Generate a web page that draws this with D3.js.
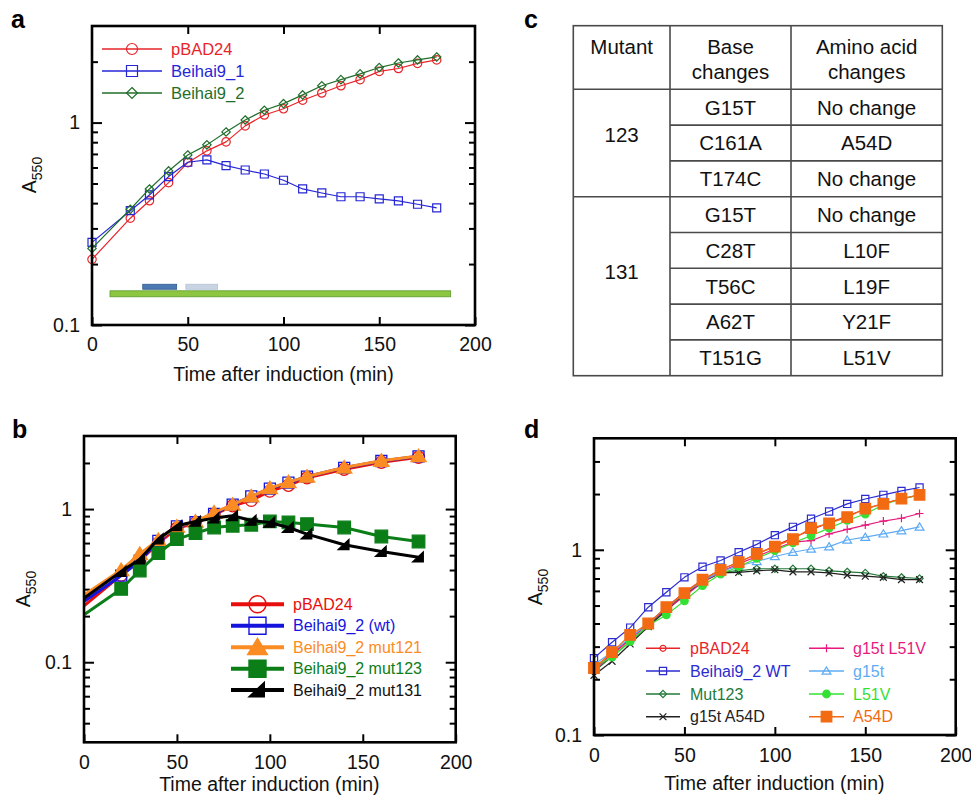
<!DOCTYPE html>
<html>
<head>
<meta charset="utf-8">
<script src="https://cdn.jsdelivr.net/npm/d3@7"></script>
<style>
  html, body { margin: 0; padding: 0; background: #fff; }
  svg { display: block; font-family: "Liberation Sans", Arial, Helvetica, sans-serif; }
</style>
</head>
<body>
<svg id="fig" width="971" height="796"></svg>
<script>
// ---------- Panel a: growth after induction ----------
const timeA = [0, 20, 30, 40, 50, 60, 70, 80, 90, 100, 110, 120, 130, 140, 150, 160, 170, 180];
const pBAD24_A   = [0.211, 0.337, 0.411, 0.505, 0.634, 0.725, 0.803, 0.963, 1.09, 1.17, 1.29, 1.40, 1.52, 1.63, 1.79, 1.85, 1.96, 2.04];
const beihai9_1A = [0.256, 0.367, 0.439, 0.541, 0.637, 0.654, 0.613, 0.583, 0.557, 0.519, 0.470, 0.449, 0.430, 0.430, 0.420, 0.410, 0.395, 0.379];
const beihai9_2A = [0.239, 0.373, 0.470, 0.577, 0.692, 0.776, 0.899, 1.03, 1.15, 1.24, 1.37, 1.52, 1.63, 1.74, 1.87, 1.97, 2.04, 2.11];
// time windows shown as bars under the curves: [start, end, A550 level]
const windowsA = [
  { start: 26.5, end: 44.2, level: 0.1545, kind: "dark" },
  { start: 49.0, end: 65.6, level: 0.1545, kind: "light" },
  { start: 9.4,  end: 187.3, level: 0.1426, kind: "green" }
];

// ---------- Panel b: mutants ----------
const timeB = [0, 20, 30, 40, 50, 60, 70, 80, 90, 100, 110, 120, 140, 160, 180];
const pBAD24_B = [0.233, 0.37, 0.46, 0.60, 0.75, 0.81, 0.92, 1.05, 1.14, 1.31, 1.43, 1.60, 1.82, 2.02, 2.18];
const wt_B     = [0.249, 0.368, 0.46, 0.62, 0.77, 0.82, 0.93, 1.07, 1.21, 1.36, 1.49, 1.63, 1.86, 2.06, 2.21];
const mut121_B = [0.275, 0.40, 0.51, 0.63, 0.77, 0.83, 0.95, 1.07, 1.21, 1.37, 1.50, 1.63, 1.87, 2.07, 2.22];
const mut123_B = [0.204, 0.301, 0.397, 0.515, 0.637, 0.697, 0.758, 0.778, 0.79, 0.83, 0.818, 0.798, 0.758, 0.662, 0.614];
const mut131_B = [0.262, 0.391, 0.471, 0.637, 0.778, 0.83, 0.873, 0.904, 0.843, 0.818, 0.758, 0.686, 0.585, 0.528, 0.485];

// ---------- Panel c: mutation table ----------
const tableHeader = [["Mutant"], ["Base", "changes"], ["Amino acid", "changes"]];
const mutantIds   = ["123", "131"];
const mutantRows  = [3, 5];
const baseChanges = ["G15T", "C161A", "T174C", "G15T", "C28T", "T56C", "A62T", "T151G"];
const aaChanges   = ["No change", "A54D", "No change", "No change", "L10F", "L19F", "Y21F", "L51V"];

// ---------- Panel d: single / double mutants ----------
const timeD = [0, 10, 20, 30, 40, 50, 60, 70, 80, 90, 100, 110, 120, 130, 140, 150, 160, 170, 180];
const pBAD24_D  = [0.22, 0.27, 0.33, 0.40, 0.49, 0.59, 0.69, 0.78, 0.86, 0.95, 1.05, 1.16, 1.28, 1.40, 1.52, 1.66, 1.78, 1.88, 1.98];
const wt_D      = [0.26, 0.317, 0.38, 0.49, 0.59, 0.71, 0.81, 0.875, 0.97, 1.07, 1.20, 1.33, 1.47, 1.61, 1.77, 1.88, 1.98, 2.08, 2.17];
const mut123_D  = [0.22, 0.265, 0.32, 0.39, 0.48, 0.58, 0.68, 0.76, 0.77, 0.79, 0.79, 0.79, 0.79, 0.77, 0.76, 0.75, 0.72, 0.71, 0.70];
const g15tA54D_D = [0.21, 0.25, 0.31, 0.385, 0.47, 0.57, 0.67, 0.75, 0.755, 0.77, 0.78, 0.76, 0.76, 0.75, 0.73, 0.72, 0.71, 0.69, 0.69];
const g15tL51V_D = [0.225, 0.275, 0.33, 0.40, 0.48, 0.56, 0.67, 0.76, 0.84, 0.92, 1.01, 1.10, 1.12, 1.22, 1.29, 1.36, 1.43, 1.48, 1.57];
const g15t_D    = [0.24, 0.28, 0.335, 0.40, 0.49, 0.58, 0.68, 0.76, 0.82, 0.865, 0.92, 0.97, 1.01, 1.04, 1.13, 1.17, 1.22, 1.27, 1.33];
const l51v_D    = [0.235, 0.263, 0.32, 0.39, 0.445, 0.53, 0.64, 0.74, 0.81, 0.90, 0.99, 1.09, 1.19, 1.31, 1.44, 1.56, 1.75, 1.88, 1.97];
const a54d_D    = [0.23, 0.28, 0.347, 0.40, 0.49, 0.583, 0.689, 0.78, 0.857, 0.95, 1.04, 1.14, 1.31, 1.39, 1.50, 1.67, 1.77, 1.89, 1.98];

const xTickValues = [0, 50, 100, 150, 200];

// ---------- drawing helpers ----------
const svg = d3.select("#fig");
svg.append("rect").attr("width", 971).attr("height", 796).attr("fill", "#fff");

function markerPath(kind, r) {
  switch (kind) {
    case "circle":   return `M${-r},0A${r},${r} 0 1,0 ${r},0A${r},${r} 0 1,0 ${-r},0Z`;
    case "square":   return `M${-r},${-r}H${r}V${r}H${-r}Z`;
    case "diamond":  return `M0,${-r}L${r},0L0,${r}L${-r},0Z`;
    case "triangle": return `M0,${-r}L${r * 1.1},${r * 0.8}L${-r * 1.1},${r * 0.8}Z`;
    case "wedge":    return `M${-r},${r * 0.8}L${r * 0.8},${-r * 0.9}L${r * 0.8},${r * 0.8}Z`;
    case "plus":     return `M${-r},0H${r}M0,${-r}V${r}`;
    case "cross":    return `M${-r},${-r}L${r},${r}M${-r},${r}L${r},${-r}`;
  }
}

function logTicks(lo, hi) {
  const out = [];
  for (let e = Math.floor(Math.log10(lo)); e <= Math.ceil(Math.log10(hi)); e++) {
    for (let m = 1; m <= 9; m++) {
      const v = +(m * Math.pow(10, e)).toPrecision(6);
      if (v > lo * 1.0001 && v < hi * 0.9999) out.push(v);
      else if (m === 1 && Math.abs(v - lo) < 1e-9) out.push(v);
    }
  }
  return out;
}
const isDecade = v => Math.abs(Math.log10(v) - Math.round(Math.log10(v))) < 1e-6;

function drawMarker(sel, s, r) {
  sel.append("path")
    .attr("d", markerPath(s.marker, r))
    .attr("fill", s.fill === "solid" ? s.color : (s.fill === "white" ? "#fff" : "none"))
    .attr("stroke", s.color)
    .attr("stroke-width", s.markerStroke || 1.2)
    .attr("stroke-linejoin", "miter");
}

function drawPanel(p) {
  const g = svg.append("g").attr("transform", `translate(${p.left},${p.top})`);
  const x = d3.scaleLinear().domain([0, 200]).range([0, p.width]);
  const y = d3.scaleLog().domain(p.yDomain).range([p.height, 0]);
  const yVals = logTicks(p.yDomain[0], p.yDomain[1]);
  const fmt = v => (v >= 1 ? d3.format("d")(v) : String(v));

  // axes (ticks point inward)
  g.append("g").attr("transform", `translate(0,${p.height})`)
    .call(d3.axisBottom(x).tickValues(xTickValues).tickSize(-8).tickPadding(p.xPad).tickFormat(d3.format("d")));
  g.append("g")
    .call(d3.axisTop(x).tickValues([50, 100, 150]).tickSize(-8).tickFormat(""));
  const axY = g.append("g")
    .call(d3.axisLeft(y).tickValues(yVals).tickSize(-6).tickPadding(12)
      .tickFormat(v => isDecade(v) ? fmt(v) : ""));
  const axY2 = g.append("g").attr("transform", `translate(${p.width},0)`)
    .call(d3.axisRight(y).tickValues(yVals).tickSize(-6).tickFormat(""));
  g.selectAll(".domain").remove();
  axY.selectAll(".tick line").filter(v => isDecade(v)).attr("x2", 10);
  axY2.selectAll(".tick line").filter(v => isDecade(v)).attr("x2", -10);
  g.selectAll(".tick line").attr("stroke", "#000").attr("stroke-width", 2);
  g.selectAll(".tick text")
    .attr("fill", "#111")
    .style("font-family", "'Liberation Sans', Arial, sans-serif")
    .style("font-size", "19.5px");

  // extra bars (panel a)
  if (p.windows) {
    const styles = {
      dark:  { fill: "#4b79b1", stroke: "#30598c", h: 5 },
      light: { fill: "#c8d4e4", stroke: "#b6c3d4", h: 5 },
      green: { fill: "#8dc641", stroke: "#5d9b2c", h: 6 }
    };
    g.selectAll("rect.win").data(p.windows).join("rect")
      .attr("class", "win")
      .attr("x", d => x(d.start))
      .attr("width", d => x(d.end) - x(d.start))
      .attr("y", d => y(d.level) - styles[d.kind].h / 2)
      .attr("height", d => styles[d.kind].h)
      .attr("fill", d => styles[d.kind].fill)
      .attr("stroke", d => styles[d.kind].stroke)
      .attr("stroke-width", 0.8);
  }

  // series
  const line = d3.line().x(d => x(d[0])).y(d => y(d[1]));
  p.series.forEach(s => {
    const pts = s.time.map((t, i) => [t, s.values[i]]);
    g.append("path").datum(pts)
      .attr("d", line)
      .attr("fill", "none")
      .attr("stroke", s.color)
      .attr("stroke-width", p.lineWidth)
      .attr("stroke-linejoin", "round");
    const mpts = p.noMarkerAtZero ? pts.filter(d => d[0] > 0) : pts;
    mpts.forEach(d => {
      const m = g.append("g").attr("transform", `translate(${x(d[0])},${y(d[1])})`);
      drawMarker(m, s, s.r);
    });
  });

  // frame
  g.append("rect").attr("width", p.width).attr("height", p.height)
    .attr("fill", "none").attr("stroke", "#000").attr("stroke-width", 2.6);

  // axis titles
  svg.append("text")
    .attr("x", p.left + p.width / 2 + p.xTitleDx).attr("y", p.xTitleY)
    .attr("text-anchor", "middle").attr("font-size", 19.5).attr("fill", "#111")
    .text("Time after induction (min)");
  const yt = svg.append("text")
    .attr("transform", `translate(${p.yTitleX},${p.yTitleY}) rotate(-90)`)
    .attr("text-anchor", "middle").attr("font-size", 19.5).attr("fill", "#111");
  yt.append("tspan").text("A");
  yt.append("tspan").attr("font-size", 14).attr("dy", 6).text("550");

  // panel letter
  svg.append("text").attr("x", p.letterX).attr("y", p.letterY)
    .attr("font-size", 25).attr("font-weight", "bold").attr("fill", "#000").text(p.letter);

  // legend
  p.legend.forEach(L => {
    L.items.forEach((s, i) => {
      const yy = L.rows[i];
      svg.append("line").attr("x1", L.x0).attr("x2", L.x1).attr("y1", yy).attr("y2", yy)
        .attr("stroke", s.color).attr("stroke-width", L.lw);
      const m = svg.append("g").attr("transform", `translate(${(L.x0 + L.x1) / 2},${yy})`);
      drawMarker(m, Object.assign({}, s, { markerStroke: L.ms || s.markerStroke }), L.r(s));
      svg.append("text").attr("x", L.tx).attr("y", yy).attr("dy", "0.36em")
        .attr("font-size", L.fs).attr("fill", s.textColor || s.color).text(s.name);
    });
  });
}

// ---------- panel a ----------
const seriesA = [
  { name: "pBAD24",    time: timeA, values: pBAD24_A,   color: "#e8242a", marker: "circle",  fill: "none", r: 4.2 },
  { name: "Beihai9_1", time: timeA, values: beihai9_1A, color: "#2626d6", marker: "square",  fill: "none", r: 4 },
  { name: "Beihai9_2", time: timeA, values: beihai9_2A, color: "#1f6e2b", marker: "diamond", fill: "none", r: 4.2 }
];
drawPanel({
  letter: "a", letterX: 11, letterY: 28,
  left: 92, top: 26, width: 383, height: 299, yDomain: [0.1, 3],
  xPad: 12, lineWidth: 1.2, series: seriesA, windows: windowsA,
  xTitleY: 381, xTitleDx: 0, yTitleX: 36, yTitleY: 175,
  legend: [{ items: seriesA, x0: 102, x1: 162, tx: 171, rows: [49, 71, 93], lw: 1.5, fs: 16.5, r: s => 5.5 }]
});

// ---------- panel b ----------
const seriesB = [
  { name: "pBAD24",           time: timeB, values: pBAD24_B, color: "#e80e0e", marker: "circle",   fill: "none",  r: 6, markerStroke: 1.3 },
  { name: "Beihai9_2 (wt)",   time: timeB, values: wt_B,     color: "#1414dc", marker: "square",   fill: "none",  r: 5.5, markerStroke: 1.3 },
  { name: "Beihai9_2 mut121", time: timeB, values: mut121_B, color: "#fb8c24", marker: "triangle", fill: "solid", r: 7 },
  { name: "Beihai9_2 mut123", time: timeB, values: mut123_B, color: "#0b7e17", marker: "square",   fill: "solid", r: 6.3 },
  { name: "Beihai9_2 mut131", time: timeB, values: mut131_B, color: "#000000", marker: "wedge",    fill: "solid", r: 6, textColor: "#111" }
];
drawPanel({
  letter: "b", letterX: 12, letterY: 438,
  left: 84, top: 436, width: 371.7, height: 306.3, yDomain: [0.03, 3],
  xPad: 12.5, lineWidth: 3, series: seriesB, noMarkerAtZero: true,
  xTitleY: 791, xTitleDx: -0.5, yTitleX: 30, yTitleY: 589,
  legend: [{ items: seriesB, x0: 231, x1: 284, tx: 293, rows: [604.3, 625.7, 647.3, 668.7, 690], lw: 4, fs: 16,
             r: s => (s.marker === "triangle" ? 9 : s.marker === "wedge" ? 8.5 : 8.5), ms: 1.4 }]
});

// ---------- panel d ----------
const seriesD = [
  { name: "pBAD24",       time: timeD, values: pBAD24_D,   color: "#e8262a", marker: "circle",   fill: "none",  r: 3 },
  { name: "Beihai9_2 WT", time: timeD, values: wt_D,       color: "#2b2bd0", marker: "square",   fill: "none",  r: 3.6 },
  { name: "Mut123",       time: timeD, values: mut123_D,   color: "#247a3a", marker: "diamond",  fill: "none",  r: 3.6 },
  { name: "g15t A54D",    time: timeD, values: g15tA54D_D, color: "#222222", marker: "cross",    fill: "none",  r: 3.4 },
  { name: "g15t L51V",    time: timeD, values: g15tL51V_D, color: "#e8197e", marker: "plus",     fill: "none",  r: 4 },
  { name: "g15t",         time: timeD, values: g15t_D,     color: "#5eabf4", marker: "triangle", fill: "none",  r: 4 },
  { name: "L51V",         time: timeD, values: l51v_D,     color: "#35e035", marker: "circle",   fill: "solid", r: 3.8 },
  { name: "A54D",         time: timeD, values: a54d_D,     color: "#f26a12", marker: "square",   fill: "solid", r: 5.3 }
];
drawPanel({
  letter: "d", letterX: 524, letterY: 438,
  left: 594, top: 438.3, width: 361.7, height: 296.7, yDomain: [0.1, 4],
  xPad: 13, lineWidth: 1.2, series: seriesD,
  xTitleY: 790, xTitleDx: -0.5, yTitleX: 542, yTitleY: 587,
  legend: [
    { items: seriesD.slice(0, 4), x0: 646, x1: 680, tx: 690, rows: [648.3, 671, 694, 716.7], lw: 1.5, fs: 16, r: s => s.r },
    { items: seriesD.slice(4),    x0: 809, x1: 844, tx: 853, rows: [648.3, 671, 694, 716.7], lw: 1.5, fs: 16, r: s => s.r }
  ]
});

// ---------- panel c: table ----------
(function drawTable() {
  const colX = [573.3, 670, 791, 942.3];
  const top = 25.7, headBottom = 89.3, rowH = 35.8;
  const nRows = baseChanges.length;
  const bottom = headBottom + nRows * rowH;
  const g = svg.append("g");
  const stroke = "#4a4a4a", sw = 1.6;
  const cx = i => (colX[i] + colX[i + 1]) / 2;

  svg.append("text").attr("x", 524).attr("y", 28).attr("font-size", 25)
    .attr("font-weight", "bold").attr("fill", "#000").text("c");

  // outer border & column separators
  g.append("rect").attr("x", colX[0]).attr("y", top).attr("width", colX[3] - colX[0]).attr("height", bottom - top)
    .attr("fill", "none").attr("stroke", stroke).attr("stroke-width", sw);
  [colX[1], colX[2]].forEach(cxv => g.append("line").attr("x1", cxv).attr("x2", cxv).attr("y1", top).attr("y2", bottom)
    .attr("stroke", stroke).attr("stroke-width", sw));
  // header rule
  g.append("line").attr("x1", colX[0]).attr("x2", colX[3]).attr("y1", headBottom).attr("y2", headBottom)
    .attr("stroke", stroke).attr("stroke-width", sw);
  // row rules (full width between mutant groups, otherwise only in cols 2-3)
  let groupStart = 0;
  const groupEnds = mutantRows.map(n => (groupStart += n));
  for (let r = 1; r < nRows; r++) {
    const yy = headBottom + r * rowH;
    const full = groupEnds.includes(r);
    g.append("line").attr("x1", full ? colX[0] : colX[1]).attr("x2", colX[3]).attr("y1", yy).attr("y2", yy)
      .attr("stroke", stroke).attr("stroke-width", sw);
  }

  const txt = (x, y, s) => g.append("text").attr("x", x).attr("y", y).attr("text-anchor", "middle")
    .attr("font-size", 20.5).attr("fill", "#111").text(s);

  // header
  tableHeader.forEach((lines, i) => {
    lines.forEach((s, k) => txt(cx(i), 53.5 + k * 25, s));
  });
  // body
  baseChanges.forEach((s, r) => txt(cx(1), headBottom + (r + 0.5) * rowH + 7.3, s));
  aaChanges.forEach((s, r) => txt(cx(2), headBottom + (r + 0.5) * rowH + 7.3, s));
  let start = 0;
  mutantIds.forEach((id, i) => {
    const gTop = headBottom + start * rowH, gH = mutantRows[i] * rowH;
    txt(cx(0), gTop + 0.42 * gH + 7.3, id);
    start += mutantRows[i];
  });
})();
</script>
</body>
</html>
